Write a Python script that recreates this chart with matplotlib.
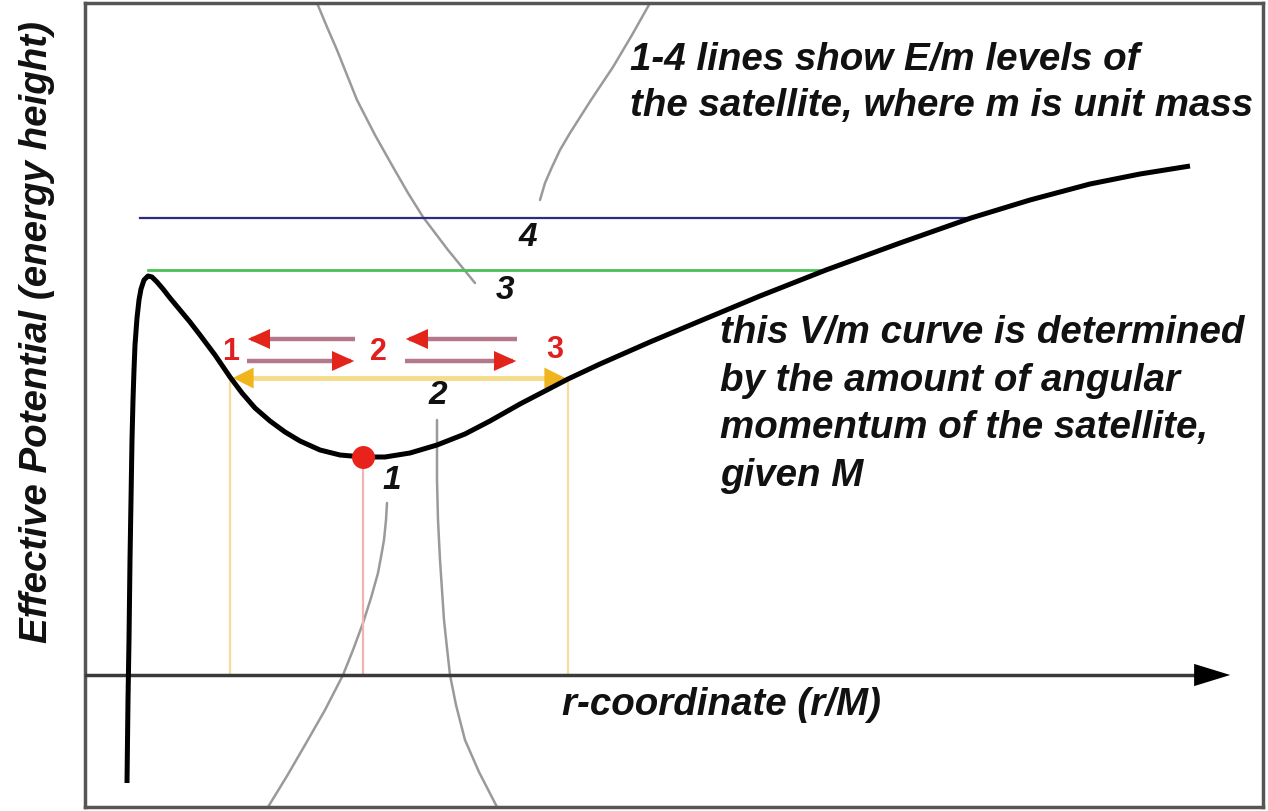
import matplotlib
matplotlib.use("Agg")
import matplotlib.pyplot as plt

# ---------------- data (r in r/M-like units, V in energy units) ----------------
curve_r = [1.05, 1.075, 1.10, 1.125, 1.15, 1.175, 1.20, 1.225, 1.25, 1.30, 1.35, 1.40,
           1.475, 1.575, 1.675, 1.80, 1.95, 2.125, 2.375, 2.625, 2.875, 3.25, 3.625,
           3.925, 4.25, 4.625, 5.0, 5.375, 5.875, 6.375, 6.95, 7.5, 8.125, 8.80, 9.5,
           10.125, 10.875, 11.5, 12.075, 12.875, 14.125, 15.375, 16.875, 18.525,
           20.375, 22.15, 23.625, 25.125, 26.375, 27.625]
curve_V = [-1.08, -0.25, 0.35, 1.15, 1.75, 2.35, 2.75, 3.05, 3.30, 3.57, 3.75, 3.86,
           3.95, 3.99, 3.98, 3.93, 3.86, 3.77, 3.65, 3.53, 3.40, 3.20, 2.98,
           2.82, 2.67, 2.54, 2.43, 2.34, 2.25, 2.20, 2.18, 2.18, 2.22, 2.30, 2.41,
           2.54, 2.71, 2.84, 2.96, 3.11, 3.33, 3.54, 3.79, 4.05,
           4.32, 4.57, 4.75, 4.91, 5.01, 5.09]

# energy levels: (E, r_start, r_end)
level4 = (4.57, 1.375, 22.15)
level3 = (4.05, 1.575, 18.525)
level2 = (2.97, 3.625, 12.075)
level1 = (2.18, 6.95)

# oscillation arrows between turning points
osc_top_V = 3.36
osc_bot_V = 3.14
osc_left = (4.05, 6.75)
osc_right = (8.0, 10.8)

red_labels = ["1", "2", "3"]
red_label_r = [3.65, 7.325, 11.75]
red_label_V = [3.23, 3.23, 3.25]

level_labels = ["4", "3", "2", "1"]
level_label_r = [11.075, 10.5, 8.825, 7.675]
level_label_V = [4.37, 3.84, 2.79, 1.94]

# grey leader lines
lead1_r = [5.8, 6.05, 6.3, 6.55, 6.8, 7.25, 7.7, 8.075, 8.45, 9.075, 9.75]
lead1_V = [6.72, 6.48, 6.25, 6.0, 5.75, 5.4, 5.08, 4.82, 4.58, 4.25, 3.92]
lead2_r = [14.125, 13.675, 13.2, 12.65, 12.125, 11.875, 11.675, 11.5, 11.375]
lead2_V = [6.72, 6.4, 6.08, 5.75, 5.42, 5.25, 5.08, 4.92, 4.75]
lead3_r = [7.55, 7.525, 7.475, 7.4, 7.325, 7.15, 6.95, 6.7, 6.45, 6.0, 5.5, 5.05, 4.575]
lead3_V = [1.72, 1.55, 1.35, 1.18, 1.02, 0.77, 0.52, 0.25, 0.0, -0.35, -0.70, -1.01, -1.32]
lead4_r = [8.8, 8.8, 8.8, 8.825, 8.875, 8.925, 8.975, 9.05, 9.125, 9.275, 9.5, 9.85, 10.3]
lead4_V = [2.55, 2.25, 1.95, 1.55, 1.15, 0.85, 0.55, 0.27, 0.0, -0.30, -0.65, -0.97, -1.32]

note1_lines = ["1-4 lines show E/m levels of",
               "the satellite, where m is unit mass"]
note2_lines = ["this V/m curve is determined",
               "by the amount of angular",
               "momentum of the satellite,",
               "given M"]
xlabel_text = "r-coordinate (r/M)"
ylabel_text = "Effective Potential (energy height)"

# ---------------- figure ----------------
W, H = 1268, 811
fig = plt.figure(figsize=(W / 100, H / 100), dpi=100)
ax = fig.add_axes([85 / W, 4 / H, 1178 / W, 804 / H])
ax.set_xlim(0, 29.45)
ax.set_ylim(-1.32, 6.72)
ax.set_xticks([])
ax.set_yticks([])
for s in ax.spines.values():
    s.set_color("#555555")
    s.set_linewidth(2.5)

font = dict(family="Liberation Sans", weight="bold", style="italic")
TXT = 27.7

# grey leader lines
for lr, lv in [(lead1_r, lead1_V), (lead2_r, lead2_V), (lead3_r, lead3_V), (lead4_r, lead4_V)]:
    ax.plot(lr, lv, color="#9a9a9a", lw=1.8, zorder=2,
            solid_capstyle="round", solid_joinstyle="round")

# r axis with arrow
ax.plot([0, 28.2], [0, 0], color="#3a3a3a", lw=2.5, zorder=3)
ax.annotate("", xy=(28.7, 0), xytext=(27.9, 0),
            arrowprops=dict(arrowstyle="-|>,head_length=1.3,head_width=0.4",
                            color="black", lw=0, mutation_scale=20), zorder=4)

# vertical drop lines
ax.plot([level2[1], level2[1]], [0, level2[0]], color="#f5dc9a", lw=1.6, zorder=2)
ax.plot([level2[2], level2[2]], [0, level2[0]], color="#f5dc9a", lw=1.6, zorder=2)
ax.plot([level1[1], level1[1]], [0, level1[0]], color="#f0b4b4", lw=1.6, zorder=2)

# energy levels
ax.plot([level4[1], level4[2]], [level4[0]] * 2, color="#2b2b80", lw=1.6, zorder=3)
ax.plot([level3[1], level3[2]], [level3[0]] * 2, color="#4cbf5a", lw=2.0, zorder=3)
ax.plot([level2[1] + 0.3, level2[2] - 0.3], [level2[0]] * 2, color="#f4dc8a", lw=3.5, zorder=3)
for tip, tail in [(level2[1], level2[1] + 0.5), (level2[2], level2[2] - 0.5)]:
    ax.annotate("", xy=(tip, level2[0]), xytext=(tail, level2[0]),
                arrowprops=dict(arrowstyle="-|>,head_length=1.0,head_width=0.5",
                                color="#f0b41c", lw=0, mutation_scale=15), zorder=4)

# oscillation arrows
mauve = "#b3798a"
red = "#e3241b"
for (a, b) in [osc_left, osc_right]:
    ax.plot([a + 0.1, b], [osc_top_V] * 2, color=mauve, lw=3.2, zorder=3, solid_capstyle="butt")
    ax.plot([a, b - 0.1], [osc_bot_V] * 2, color=mauve, lw=3.2, zorder=3, solid_capstyle="butt")
    ax.annotate("", xy=(a - 0.05, osc_top_V), xytext=(a + 0.5, osc_top_V),
                arrowprops=dict(arrowstyle="-|>,head_length=1.0,head_width=0.45",
                                color=red, lw=0, mutation_scale=16), zorder=4)
    ax.annotate("", xy=(b + 0.05, osc_bot_V), xytext=(b - 0.5, osc_bot_V),
                arrowprops=dict(arrowstyle="-|>,head_length=1.0,head_width=0.45",
                                color=red, lw=0, mutation_scale=16), zorder=4)

# effective potential curve
ax.plot(curve_r, curve_V, color="black", lw=3.6, zorder=5,
        solid_joinstyle="round", solid_capstyle="butt")

# stable circular orbit point
ax.plot([level1[1]], [level1[0]], "o", color="#e8231c", ms=15.5, mec="#e8231c", zorder=6)

# labels
for t, r, v in zip(red_labels, red_label_r, red_label_V):
    ax.text(r, v, t, color="#e02020", fontsize=22, family="Liberation Sans",
            weight="bold", ha="center", va="center", zorder=7)
for t, r, v in zip(level_labels, level_label_r, level_label_V):
    ax.text(r, v, t, color="#111111", fontsize=24, ha="center", va="center", zorder=7, **font)

note1_V = [6.15, 5.69]
for t, v in zip(note1_lines, note1_V):
    ax.text(13.625, v, t, fontsize=TXT, color="#111111", ha="left", va="center", **font)
note2_V = [3.42, 2.94, 2.47, 1.99]
for t, v in zip(note2_lines, note2_V):
    ax.text(15.875, v, t, fontsize=TXT, color="#111111", ha="left", va="center", **font)

ax.text(15.9, -0.30, xlabel_text, fontsize=TXT, color="#111111", ha="center", va="center", **font)
fig.text(37 / W, 1 - 332 / H, ylabel_text, rotation=90, fontsize=TXT, color="#111111",
         ha="center", va="center", **font)

fig.savefig("out.png", dpi=100)
